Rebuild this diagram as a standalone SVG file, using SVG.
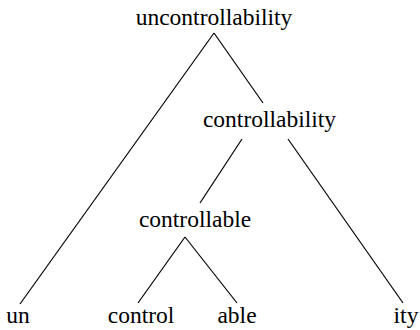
<svg xmlns="http://www.w3.org/2000/svg" width="420" height="330" viewBox="0 0 420 330" font-family="Liberation Serif, Times New Roman, serif">
  <style>
    .lbl { font-size: 23.5px; fill: #000; text-anchor: middle; }
    .edge { stroke: #000; stroke-width: 1.2; fill: none; }
  </style>
  <rect width="420" height="330" fill="#fff"/>
  <g id="connectors">
    <line class="edge" x1="214" y1="33" x2="20" y2="304"/>
    <line class="edge" x1="214" y1="33" x2="263" y2="103"/>
    <line class="edge" x1="242" y1="139" x2="200" y2="203"/>
    <line class="edge" x1="288" y1="139" x2="403" y2="303"/>
    <line class="edge" x1="185" y1="237" x2="138" y2="303"/>
    <line class="edge" x1="185" y1="237" x2="237" y2="303"/>
  </g>
  <g id="node-uncontrollability"><text class="lbl" x="214" y="25">uncontrollability</text></g>
  <g id="node-controllability"><text class="lbl" x="269.5" y="127">controllability</text></g>
  <g id="node-controllable"><text class="lbl" x="195" y="227">controllable</text></g>
  <g id="node-un"><text class="lbl" x="18" y="323">un</text></g>
  <g id="node-control"><text class="lbl" x="141" y="323">control</text></g>
  <g id="node-able"><text class="lbl" x="237" y="323">able</text></g>
  <g id="node-ity"><text class="lbl" x="406" y="323">ity</text></g>
</svg>
